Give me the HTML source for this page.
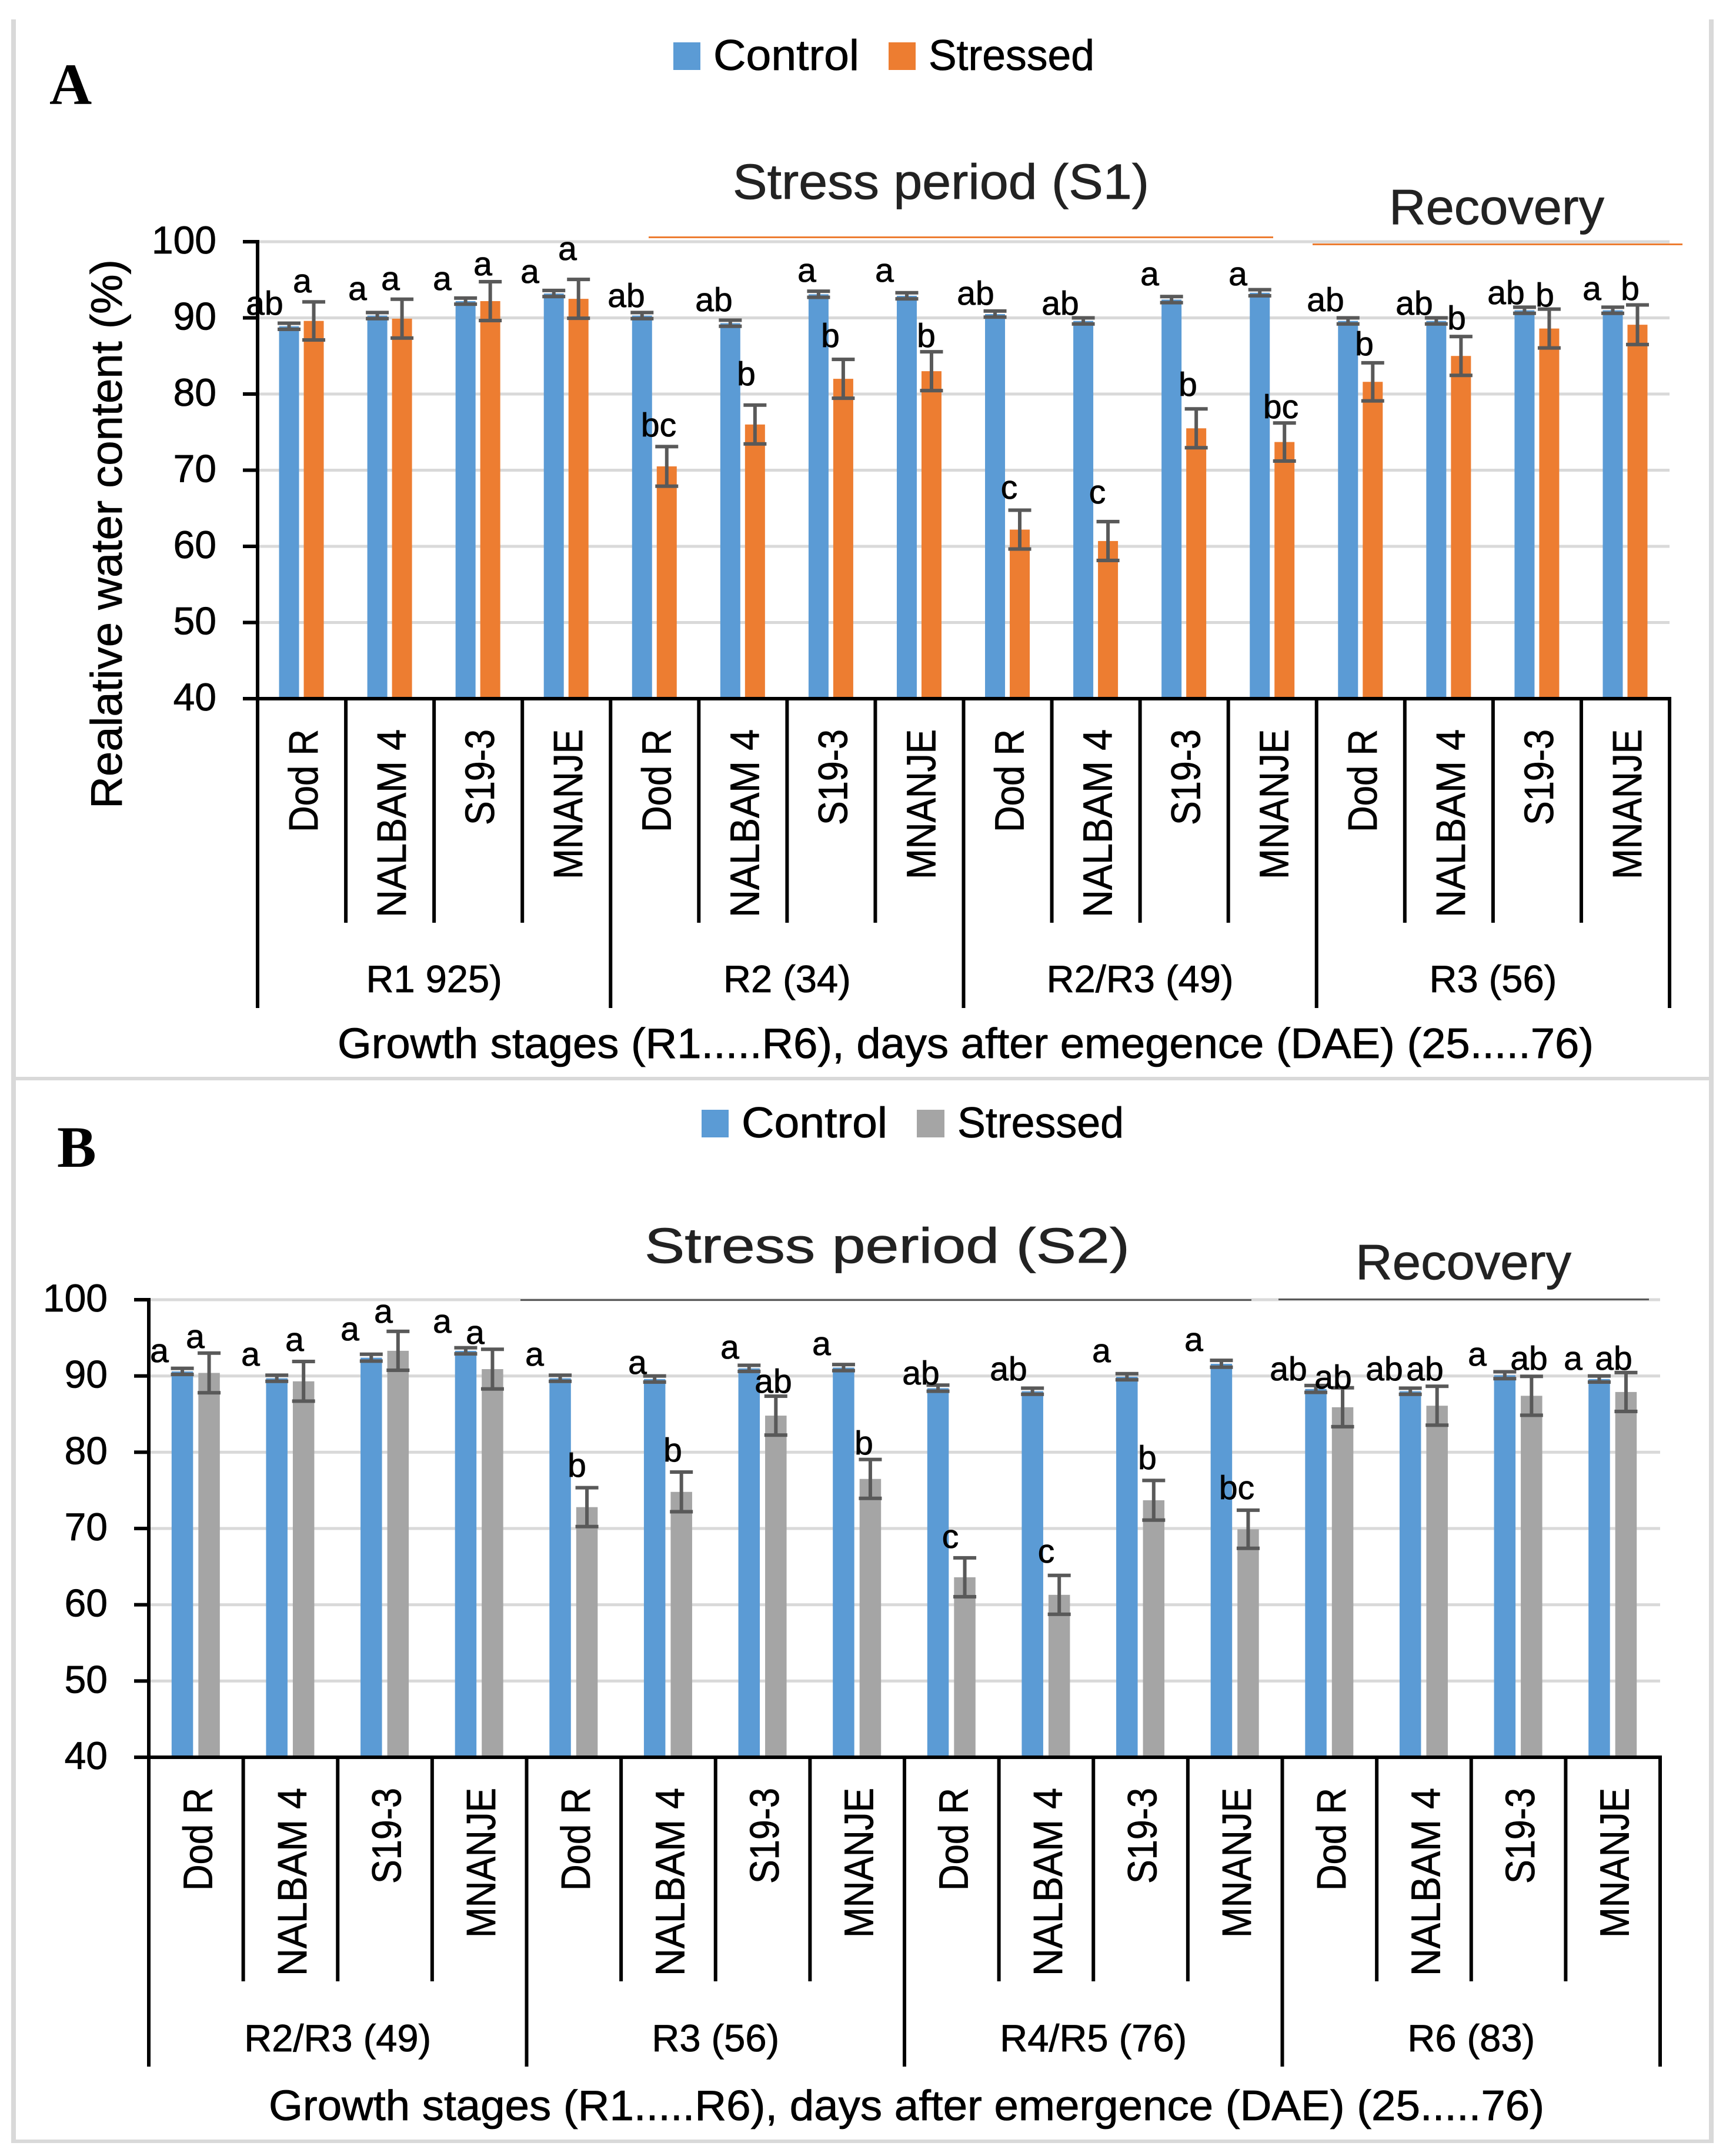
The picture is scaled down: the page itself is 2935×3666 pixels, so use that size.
<!DOCTYPE html>
<html lang="en">
<head>
<meta charset="utf-8">
<title>Relative water content, panels A and B</title>
<style>
html,body{margin:0;padding:0;background:#fff;}
svg{display:block;}
text{font-family:"Liberation Sans",sans-serif;fill:#000;stroke:#000;stroke-width:0.8px;}
.sig text{font-size:57px;text-anchor:middle;}
.letter{font-family:"Liberation Serif",serif;font-weight:bold;font-size:100px;stroke:none;}
.legend{font-size:73px;}
.note{font-size:84px;fill:#222;stroke:#222;}
.title{font-size:72px;}
</style>
</head>
<body>
<svg id="chart" xmlns="http://www.w3.org/2000/svg" width="2935" height="3666" viewBox="0 0 2935 3666">
  <rect x="0" y="0" width="2935" height="3666" fill="#fff"/>
  <g fill="#D9D9D9">
    <rect x="19" y="33" width="8" height="3611"/>
    <rect x="2906" y="33" width="8" height="3611"/>
    <rect x="19" y="1831" width="2895" height="6"/>
    <rect x="19" y="3638" width="2895" height="6"/>
  </g>

  <g id="panel-a"></g>
  <g id="panel-b"></g>

  <!-- Panel A static annotations -->
  <text class="letter" x="84" y="177">A</text>
  <g>
    <rect x="1145" y="72" width="46" height="47" fill="#5B9BD5"/>
    <text class="legend" x="1213" y="119" textLength="248" lengthAdjust="spacingAndGlyphs">Control</text>
    <rect x="1511" y="72" width="46" height="47" fill="#ED7D31"/>
    <text class="legend" x="1579" y="119" textLength="282" lengthAdjust="spacingAndGlyphs">Stressed</text>
  </g>
  <text class="note" x="1246" y="338" textLength="708" lengthAdjust="spacingAndGlyphs">Stress period (S1)</text>
  <rect x="1103" y="402" width="1062" height="3" fill="#ED7D31"/>
  <text class="note" x="2362" y="381" textLength="366" lengthAdjust="spacingAndGlyphs">Recovery</text>
  <rect x="2232" y="414" width="629" height="3" fill="#ED7D31"/>
  <text class="title" transform="translate(207,1375) rotate(-90)" x="0" y="0" style="font-size:75px" textLength="934" lengthAdjust="spacingAndGlyphs">Realative water content (%)</text>
  <text class="title" x="574" y="1799" textLength="2136" lengthAdjust="spacingAndGlyphs">Growth stages (R1.....R6), days after emegence (DAE) (25.....76)</text>
  <g class="sig">
    <text x="450" y="535">ab</text>
    <text x="514" y="497">a</text>
    <text x="608" y="510">a</text>
    <text x="664" y="493">a</text>
    <text x="752" y="493">a</text>
    <text x="821" y="468">a</text>
    <text x="901" y="481">a</text>
    <text x="965" y="442">a</text>
    <text x="1065" y="522">ab</text>
    <text x="1120" y="742">bc</text>
    <text x="1214" y="529">ab</text>
    <text x="1269" y="655">b</text>
    <text x="1372" y="479">a</text>
    <text x="1412" y="590">b</text>
    <text x="1504" y="479">a</text>
    <text x="1575" y="590">b</text>
    <text x="1659" y="518">ab</text>
    <text x="1716" y="848">c</text>
    <text x="1803" y="535">ab</text>
    <text x="1866" y="856">c</text>
    <text x="1955" y="485">a</text>
    <text x="2020" y="673">b</text>
    <text x="2105" y="485">a</text>
    <text x="2178" y="711">bc</text>
    <text x="2254" y="529">ab</text>
    <text x="2320" y="604">b</text>
    <text x="2405" y="535">ab</text>
    <text x="2477" y="560">b</text>
    <text x="2561" y="517">ab</text>
    <text x="2627" y="521">b</text>
    <text x="2707" y="510">a</text>
    <text x="2772" y="510">b</text>
  </g>

  <!-- Panel B static annotations -->
  <text class="letter" x="97" y="1984">B</text>
  <g>
    <rect x="1193" y="1887" width="46" height="47" fill="#5B9BD5"/>
    <text class="legend" x="1261" y="1934" textLength="248" lengthAdjust="spacingAndGlyphs">Control</text>
    <rect x="1559" y="1887" width="47" height="47" fill="#A5A5A5"/>
    <text class="legend" x="1628" y="1934" textLength="283" lengthAdjust="spacingAndGlyphs">Stressed</text>
  </g>
  <text class="note" x="1096" y="2147" textLength="825" lengthAdjust="spacingAndGlyphs">Stress period (S2)</text>
  <rect x="885" y="2209" width="1243" height="3" fill="#595959"/>
  <text class="note" x="2305" y="2175" textLength="367" lengthAdjust="spacingAndGlyphs">Recovery</text>
  <rect x="2174" y="2208" width="630" height="3" fill="#595959"/>
  <text class="title" x="457" y="3605" textLength="2169" lengthAdjust="spacingAndGlyphs">Growth stages (R1.....R6), days after emergence (DAE) (25.....76)</text>
  <g class="sig">
    <text x="271" y="2316">a</text>
    <text x="332" y="2292">a</text>
    <text x="426" y="2322">a</text>
    <text x="501" y="2297">a</text>
    <text x="595" y="2279">a</text>
    <text x="652" y="2249">a</text>
    <text x="752" y="2266">a</text>
    <text x="808" y="2285">a</text>
    <text x="909" y="2322">a</text>
    <text x="981" y="2511">b</text>
    <text x="1084" y="2336">a</text>
    <text x="1144" y="2485">b</text>
    <text x="1241" y="2310">a</text>
    <text x="1315" y="2368">ab</text>
    <text x="1397" y="2304">a</text>
    <text x="1469" y="2473">b</text>
    <text x="1566" y="2354">ab</text>
    <text x="1616" y="2632">c</text>
    <text x="1715" y="2347">ab</text>
    <text x="1779" y="2657">c</text>
    <text x="1873" y="2316">a</text>
    <text x="1951" y="2498">b</text>
    <text x="2030" y="2297">a</text>
    <text x="2103" y="2549">bc</text>
    <text x="2191" y="2347">ab</text>
    <text x="2267" y="2361">ab</text>
    <text x="2354" y="2347">ab</text>
    <text x="2423" y="2347">ab</text>
    <text x="2512" y="2322">a</text>
    <text x="2600" y="2329">ab</text>
    <text x="2675" y="2329">a</text>
    <text x="2744" y="2329">ab</text>
  </g>
</svg>

<script>
const categories = ["Dod R", "NALBAM 4", "S19-3", "MNANJE"];
const yTicks = [40, 50, 60, 70, 80, 90, 100];

const stagesA = ["R1 925)", "R2 (34)", "R2/R3 (49)", "R3 (56)"];
const controlA = [88.9, 90.3, 92.2, 93.2, 90.3, 89.3, 93.1, 92.9, 90.5, 89.6, 92.4, 93.3, 89.6, 89.6, 91.0, 91.0];
const stressedA = [89.6, 89.9, 92.2, 92.5, 70.5, 76.0, 82.0, 83.0, 62.2, 60.7, 75.5, 73.7, 81.6, 85.0, 88.6, 89.1];
const controlErrA = [0.4, 0.4, 0.4, 0.4, 0.4, 0.4, 0.4, 0.4, 0.4, 0.4, 0.4, 0.4, 0.4, 0.4, 0.4, 0.4];
const stressedErrA = [2.5, 2.55, 2.55, 2.55, 2.6, 2.55, 2.55, 2.55, 2.55, 2.55, 2.55, 2.5, 2.5, 2.55, 2.55, 2.6];

const stagesB = ["R2/R3 (49)", "R3 (56)", "R4/R5 (76)", "R6 (83)"];
const controlB = [90.6, 89.7, 92.4, 93.3, 89.7, 89.6, 91.0, 91.1, 88.4, 88.0, 89.9, 91.6, 88.3, 88.0, 90.1, 89.6];
const stressedB = [90.4, 89.3, 93.3, 90.9, 72.8, 74.8, 84.8, 76.5, 63.6, 61.3, 73.7, 69.9, 85.9, 86.1, 87.4, 87.9];
const controlErrB = [0.4, 0.4, 0.45, 0.4, 0.4, 0.4, 0.4, 0.4, 0.4, 0.4, 0.4, 0.45, 0.45, 0.4, 0.45, 0.4];
const stressedErrB = [2.6, 2.6, 2.55, 2.6, 2.55, 2.6, 2.55, 2.55, 2.55, 2.55, 2.6, 2.5, 2.55, 2.55, 2.55, 2.55];

const categoryLabelFit = { "Dod R": 175, "NALBAM 4": 320, "S19-3": 163, "MNANJE": 255 };

const NS = "http://www.w3.org/2000/svg";

function makeRect(parent, x, y, w, h, fill) {
  const r = document.createElementNS(NS, "rect");
  r.setAttribute("x", x);
  r.setAttribute("y", y);
  r.setAttribute("width", w);
  r.setAttribute("height", h);
  r.setAttribute("fill", fill);
  parent.appendChild(r);
  return r;
}

function makeText(parent, str, x, y, size, anchor) {
  const t = document.createElementNS(NS, "text");
  t.setAttribute("x", x);
  t.setAttribute("y", y);
  t.setAttribute("font-size", size);
  t.setAttribute("text-anchor", anchor);
  t.textContent = str;
  parent.appendChild(t);
  return t;
}

function drawPanel(cfg) {
  const g = document.getElementById(cfg.id);
  const groupW = (cfg.xRight - cfg.xLeft) / cfg.control.length;
  const yScale = v => cfg.y40 - (v - 40) * (cfg.y40 - cfg.y100) / 60;
  const xCenter = i => cfg.xLeft + groupW * (i + 0.5);

  yTicks.forEach(t => {
    const y = yScale(t);
    if (t > 40) {
      const line = makeRect(g, cfg.xLeft, y - 2.5, cfg.xRight - cfg.xLeft, 5, "#D9D9D9");
      
      
    }
  });

  cfg.control.forEach((v, i) => {
    const cx = xCenter(i);
    const c = makeRect(g, cx - cfg.barW - cfg.gap / 2 - 0.5, yScale(v), cfg.barW, cfg.y40 - yScale(v), "#5B9BD5");
    
    
    const sv = cfg.stressed[i];
    const s = makeRect(g, cx + cfg.gap / 2 - 0.5, yScale(sv), cfg.barW, cfg.y40 - yScale(sv), cfg.stressColor);
    
    

    [[cx - cfg.barW / 2 - cfg.gap / 2 - 0.5, v, cfg.controlErr[i]], [cx + cfg.barW / 2 + cfg.gap / 2 - 0.5, sv, cfg.stressedErr[i]]].forEach(e => {
      const top = yScale(e[1] + e[2]);
      const bot = yScale(e[1] - e[2]);
      const stem = makeRect(g, e[0] - 3, top, 6, bot - top, "#595959");
      
      
      const capT = makeRect(g, e[0] - 19.5, top - 3, 39, 6, "#595959");
      
      
      const capB = makeRect(g, e[0] - 19.5, bot - 3, 39, 6, "#595959");
      
      
    });

    const cat = categories[i % categories.length];
    const lab = makeText(g, cat, 0, 0, 70, "end");
    lab.setAttribute("transform", "translate(" + (cx + 27) + "," + cfg.catTop + ") rotate(-90)");
    lab.setAttribute("textLength", categoryLabelFit[cat]);
    lab.setAttribute("lengthAdjust", "spacingAndGlyphs");
    
    
  });

  yTicks.forEach(t => {
    const y = yScale(t);
    const tick = makeRect(g, cfg.xLeft - 25, y - 3, 25, 6, "#000");
    
    
    const lab = makeText(g, String(t), cfg.xLeft - 70, y + 20, 66, "end");
    
    
  });

  const yAxis = makeRect(g, cfg.xLeft - 3, cfg.y100 - 3, 6, cfg.majorBottom - cfg.y100 + 3, "#000");
  
  
  const xAxis = makeRect(g, cfg.xLeft, cfg.y40 - 3, cfg.xRight - cfg.xLeft + 3, 6, "#000");
  
  

  for (let i = 1; i <= cfg.control.length; i++) {
    const major = i % categories.length === 0;
    const x = cfg.xLeft + groupW * i;
    const sep = makeRect(g, x - 3, cfg.y40, 6, (major ? cfg.majorBottom : cfg.minorBottom) - cfg.y40, "#000");
    
    
  }

  cfg.stages.forEach((st, i) => {
    const x = cfg.xLeft + groupW * categories.length * (i + 0.5);
    const lab = makeText(g, st, x, cfg.stageBase, 65, "middle");
    
    
  });
}

drawPanel({
  id: "panel-a", control: controlA, stressed: stressedA, controlErr: controlErrA, stressedErr: stressedErrA,
  stages: stagesA, stressColor: "#ED7D31", xLeft: 438, xRight: 2839, y100: 411, y40: 1188,
  barW: 34, gap: 8, catTop: 1240, minorBottom: 1569, majorBottom: 1714, stageBase: 1687
});

drawPanel({
  id: "panel-b", control: controlB, stressed: stressedB, controlErr: controlErrB, stressedErr: stressedErrB,
  stages: stagesB, stressColor: "#A5A5A5", xLeft: 253, xRight: 2823, y100: 2210, y40: 2988,
  barW: 36.5, gap: 9, catTop: 3040, minorBottom: 3369, majorBottom: 3514, stageBase: 3488
});
</script>
</body>
</html>
